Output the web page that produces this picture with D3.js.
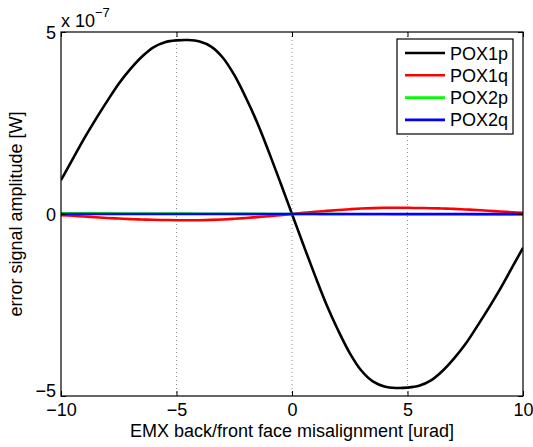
<!DOCTYPE html>
<html><head><meta charset="utf-8">
<script src="https://cdn.jsdelivr.net/npm/d3@7"></script>
<style>
body{margin:0;background:#fff;}
text{font-family:"Liberation Sans",Arial,Helvetica,sans-serif;}
</style></head>
<body><svg id="c" width="533" height="447"></svg>
<script>
const xs = [-10,-9.5,-9,-8.5,-8,-7.5,-7,-6.5,-6,-5.5,-5,-4.5,-4,-3.5,-3,-2.5,-2,-1.5,-1,-0.5,0,0.5,1,1.5,2,2.5,3,3.5,4,4.5,5,5.5,6,6.5,7,7.5,8,8.5,9,9.5,10];
const pox1p = [0.93,1.5,2.07,2.6,3.1,3.58,3.98,4.32,4.58,4.72,4.77,4.78,4.74,4.6,4.3,3.82,3.2,2.5,1.7,0.86,0,-0.86,-1.7,-2.5,-3.2,-3.82,-4.3,-4.6,-4.74,-4.78,-4.77,-4.72,-4.58,-4.32,-3.98,-3.58,-3.1,-2.6,-2.07,-1.5,-0.93];
const pox1q = [-0.03,-0.05,-0.07,-0.09,-0.11,-0.125,-0.14,-0.15,-0.16,-0.165,-0.17,-0.172,-0.17,-0.162,-0.15,-0.132,-0.11,-0.085,-0.06,-0.03,0,0.03,0.06,0.085,0.11,0.132,0.15,0.162,0.17,0.172,0.17,0.165,0.16,0.15,0.14,0.125,0.11,0.09,0.07,0.05,0.03];
const pox2p = [0.02,0.019,0.018,0.017,0.016,0.015,0.014,0.013,0.012,0.011,0.01,0.009,0.008,0.007,0.006,0.005,0.004,0.003,0.002,0.001,0,-0.001,-0.002,-0.003,-0.004,-0.005,-0.006,-0.007,-0.008,-0.009,-0.01,-0.011,-0.012,-0.013,-0.014,-0.015,-0.016,-0.017,-0.018,-0.019,-0.02];
const pox2q = [0,0,0,0,0,0,0,0,0,0,0,0,0,0,0,0,0,0,0,0,0,0,0,0,0,0,0,0,0,0,0,0,0,0,0,0,0,0,0,0,0];
const seriesNames = ["POX1p","POX1q","POX2p","POX2q"];
const seriesColors = ["#000000","#ff0000","#00ff00","#0000ff"];
const xTicks = [-10,-5,0,5,10];
const yTicks = [-5,0,5];
const gridX = [-5,0,5];

const svg = d3.select("#c");
const L=61,R=523,T=32,B=396;
const FS=18;
const x = d3.scaleLinear().domain([-10,10]).range([L,R]);
const y = d3.scaleLinear().domain([-5,5]).range([B,T]);

// grid
svg.append("g").selectAll("line").data(gridX).join("line")
 .attr("x1",d=>x(d)).attr("x2",d=>x(d)).attr("y1",T).attr("y2",B)
 .attr("stroke","#888").attr("stroke-width",1).attr("stroke-dasharray","1,3");
svg.append("line").attr("x1",L).attr("x2",R).attr("y1",y(0)).attr("y2",y(0))
 .attr("stroke","#888").attr("stroke-dasharray","1,3");

const all=[pox1p,pox1q,pox2p,pox2q];
const line=d3.line().x((d,i)=>x(xs[i])).y(d=>y(d)).curve(d3.curveCatmullRom);
svg.append("clipPath").attr("id","pc").append("rect").attr("x",L).attr("y",T).attr("width",R-L).attr("height",B-T);
all.forEach((s,k)=>{
  svg.append("path").attr("d",line(s)).attr("fill","none").attr("stroke",seriesColors[k]).attr("stroke-width",2.6).attr("clip-path","url(#pc)");
});

// axes with inward ticks
const fmt=d=>d<0?"\u2212"+Math.abs(d):String(d);
const bx=svg.append("g").attr("transform",`translate(0,${B})`).call(d3.axisBottom(x).tickValues(xTicks).tickSize(-5).tickPadding(9).tickFormat(fmt));
const tx=svg.append("g").attr("transform",`translate(0,${T})`).call(d3.axisTop(x).tickValues(xTicks).tickSize(-5).tickFormat(""));
const ly=svg.append("g").attr("transform",`translate(${L},0)`).call(d3.axisLeft(y).tickValues(yTicks).tickSize(-5).tickPadding(5).tickFormat(fmt));
const ry=svg.append("g").attr("transform",`translate(${R},0)`).call(d3.axisRight(y).tickValues(yTicks).tickSize(-5).tickFormat(""));
[bx,tx,ly,ry].forEach(g=>{
  g.select(".domain").remove();
  g.selectAll("line").attr("stroke","#000");
  g.selectAll("text").attr("font-size",FS).attr("fill","#000").style("font-family","'Liberation Sans',Arial,sans-serif");
});
bx.selectAll("text").attr("dy","0.6em");
ly.selectAll("text").attr("dy","0.36em");
ly.selectAll(".tick").filter(d=>d===-5).select("text").attr("dy","0.05em");
svg.append("rect").attr("x",L).attr("y",T).attr("width",R-L).attr("height",B-T).attr("fill","none").attr("stroke","#000").attr("stroke-width",1.2);

// exponent
const ex=svg.append("text").attr("x",61).attr("y",27).attr("font-size",FS);
ex.append("tspan").text("x 10");
ex.append("tspan").attr("dy",-10).attr("font-size",13).text("\u22127");

// labels
svg.append("text").attr("x",(L+R)/2).attr("y",437).attr("text-anchor","middle").attr("font-size",FS).text("EMX back/front face misalignment [urad]");
svg.append("text").attr("transform",`translate(22,${(T+B)/2}) rotate(-90)`).attr("text-anchor","middle").attr("font-size",FS).text("error signal amplitude [W]");

// legend
const lg=svg.append("g");
lg.append("rect").attr("x",397).attr("y",39).attr("width",116).attr("height",95).attr("fill","#fff").attr("stroke","#000").attr("stroke-width",1.2);
seriesNames.forEach((n,i)=>{
  const yy=53+i*22.3;
  lg.append("line").attr("x1",405).attr("x2",445).attr("y1",yy).attr("y2",yy).attr("stroke",seriesColors[i]).attr("stroke-width",2.6);
  lg.append("text").attr("x",450).attr("y",yy+6.5).attr("font-size",FS).text(n);
});
</script></body></html>
